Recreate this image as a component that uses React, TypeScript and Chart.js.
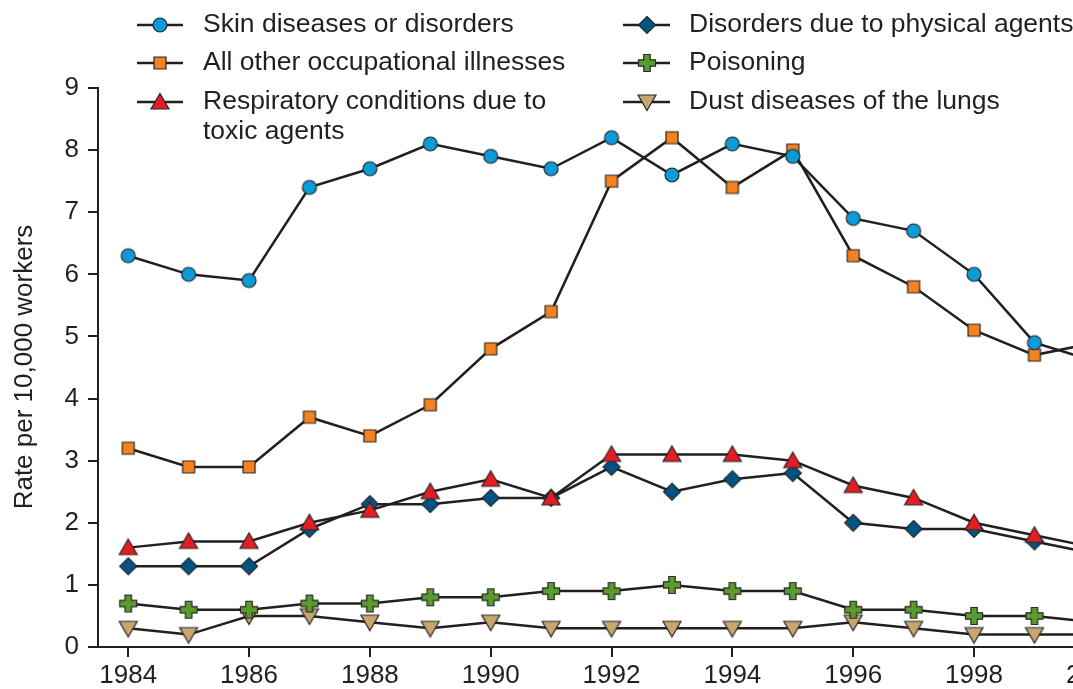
import React, { useEffect, useRef } from "react";
import { Chart, registerables } from "chart.js";

Chart.register(...registerables);

// ---------- data ----------
const YEARS = [1984, 1985, 1986, 1987, 1988, 1989, 1990, 1991, 1992, 1993, 1994, 1995, 1996, 1997, 1998, 1999, 2000];
const SKIN = [6.3, 6.0, 5.9, 7.4, 7.7, 8.1, 7.9, 7.7, 8.2, 7.6, 8.1, 7.9, 6.9, 6.7, 6.0, 4.9, 4.6];
const OTHER = [3.2, 2.9, 2.9, 3.7, 3.4, 3.9, 4.8, 5.4, 7.5, 8.2, 7.4, 8.0, 6.3, 5.8, 5.1, 4.7, 4.9];
const RESPIRATORY = [1.6, 1.7, 1.7, 2.0, 2.2, 2.5, 2.7, 2.4, 3.1, 3.1, 3.1, 3.0, 2.6, 2.4, 2.0, 1.8, 1.6];
const PHYSICAL = [1.3, 1.3, 1.3, 1.9, 2.3, 2.3, 2.4, 2.4, 2.9, 2.5, 2.7, 2.8, 2.0, 1.9, 1.9, 1.7, 1.5];
const POISONING = [0.7, 0.6, 0.6, 0.7, 0.7, 0.8, 0.8, 0.9, 0.9, 1.0, 0.9, 0.9, 0.6, 0.6, 0.5, 0.5, 0.4];
const DUST = [0.3, 0.2, 0.5, 0.5, 0.4, 0.3, 0.4, 0.3, 0.3, 0.3, 0.3, 0.3, 0.4, 0.3, 0.2, 0.2, 0.2];

const X_TICKS = [1984, 1986, 1988, 1990, 1992, 1994, 1996, 1998, 2000];
const Y_TICKS = [0, 1, 2, 3, 4, 5, 6, 7, 8, 9];
const Y_TITLE = "Rate per 10,000 workers";

const LABEL_SKIN = ["Skin diseases or disorders"];
const LABEL_OTHER = ["All other occupational illnesses"];
const LABEL_RESP = ["Respiratory conditions due to", "toxic agents"];
const LABEL_PHYS = ["Disorders due to physical agents"];
const LABEL_POIS = ["Poisoning"];
const LABEL_DUST = ["Dust diseases of the lungs"];

// ---------- styles ----------
const INK = "#231f20";
const EDGE = "#262626";
const FONT = '"Liberation Sans", Arial, Helvetica, sans-serif';
const FONT_SIZE = 26;
const LEGEND_FONT_SIZE = 26.5;

type Kind = "circle" | "square" | "triUp" | "diamond" | "plus" | "triDown";

function makeMarker(kind: Kind, fill: string): HTMLCanvasElement {
  const size = 22;
  const c = document.createElement("canvas");
  c.width = size;
  c.height = size;
  const g = c.getContext("2d")!;
  const m = size / 2;
  g.fillStyle = fill;
  g.strokeStyle = EDGE;
  g.lineWidth = 1.2;
  g.lineJoin = "miter";
  g.beginPath();
  if (kind === "circle") {
    g.arc(m, m, 7, 0, Math.PI * 2);
  } else if (kind === "square") {
    g.rect(m - 6, m - 6, 12, 12);
  } else if (kind === "triUp") {
    g.moveTo(m, m - 8.5);
    g.lineTo(m + 9, m + 7);
    g.lineTo(m - 9, m + 7);
    g.closePath();
  } else if (kind === "triDown") {
    g.moveTo(m, m + 8.5);
    g.lineTo(m + 9, m - 7);
    g.lineTo(m - 9, m - 7);
    g.closePath();
  } else if (kind === "diamond") {
    g.moveTo(m, m - 8.5);
    g.lineTo(m + 8.5, m);
    g.lineTo(m, m + 8.5);
    g.lineTo(m - 8.5, m);
    g.closePath();
  } else if (kind === "plus") {
    const a = 8.5;
    const t = 3.2;
    g.moveTo(m - t, m - a);
    g.lineTo(m + t, m - a);
    g.lineTo(m + t, m - t);
    g.lineTo(m + a, m - t);
    g.lineTo(m + a, m + t);
    g.lineTo(m + t, m + t);
    g.lineTo(m + t, m + a);
    g.lineTo(m - t, m + a);
    g.lineTo(m - t, m + t);
    g.lineTo(m - a, m + t);
    g.lineTo(m - a, m - t);
    g.lineTo(m - t, m - t);
    g.closePath();
  }
  g.fill();
  g.stroke();
  return c;
}

const SERIES: { label: string[]; values: number[]; kind: Kind; color: string; col: number; row: number }[] = [
  { label: LABEL_SKIN, values: SKIN, kind: "circle", color: "#0b9bd8", col: 0, row: 0 },
  { label: LABEL_OTHER, values: OTHER, kind: "square", color: "#f58220", col: 0, row: 1 },
  { label: LABEL_RESP, values: RESPIRATORY, kind: "triUp", color: "#e31d25", col: 0, row: 2 },
  { label: LABEL_PHYS, values: PHYSICAL, kind: "diamond", color: "#005482", col: 1, row: 0 },
  { label: LABEL_POIS, values: POISONING, kind: "plus", color: "#5c9b2e", col: 1, row: 1 },
  { label: LABEL_DUST, values: DUST, kind: "triDown", color: "#c9a66f", col: 1, row: 2 },
];

const LEGEND_COLS = [
  { lineStart: 137, lineEnd: 183, text: 203 },
  { lineStart: 623, lineEnd: 670, text: 689 },
];
const LEGEND_ROWS = [25, 63, 102];
const LEGEND_WRAP = 30;

export default function App() {
  const ref = useRef<HTMLCanvasElement | null>(null);

  useEffect(() => {
    if (!ref.current) return;
    const markers = SERIES.map((s) => makeMarker(s.kind, s.color));

    const overlay = {
      id: "overlay",
      afterDraw(chart: any) {
        const ctx: CanvasRenderingContext2D = chart.ctx;
        ctx.save();
        ctx.fillStyle = INK;
        ctx.font = `${FONT_SIZE}px ${FONT}`;
        ctx.textAlign = "center";
        ctx.textBaseline = "middle";
        ctx.translate(25, 367);
        ctx.rotate(-Math.PI / 2);
        ctx.fillText(Y_TITLE, 0, 0);
        ctx.restore();

        ctx.save();
        SERIES.forEach((s, i) => {
          const col = LEGEND_COLS[s.col];
          const y = LEGEND_ROWS[s.row];
          ctx.strokeStyle = INK;
          ctx.lineWidth = 2.5;
          ctx.beginPath();
          ctx.moveTo(col.lineStart, y);
          ctx.lineTo(col.lineEnd, y);
          ctx.stroke();
          const mk = markers[i];
          const cx = (col.lineStart + col.lineEnd) / 2;
          ctx.drawImage(mk, Math.round(cx - mk.width / 2), Math.round(y - mk.height / 2));
          ctx.fillStyle = INK;
          ctx.font = `${LEGEND_FONT_SIZE}px ${FONT}`;
          ctx.textAlign = "left";
          ctx.textBaseline = "middle";
          s.label.forEach((line, k) => {
            ctx.fillText(line, col.text, y + k * LEGEND_WRAP);
          });
        });
        ctx.restore();
      },
    };

    const chart = new Chart(ref.current, {
      type: "line",
      data: {
        datasets: SERIES.map((s, i) => ({
          label: s.label.join(" "),
          data: YEARS.map((x, j) => ({ x, y: s.values[j] })),
          borderColor: INK,
          borderWidth: 2.5,
          pointStyle: markers[i] as any,
          pointRadius: 8,
          pointHoverRadius: 8,
          tension: 0,
          fill: false,
        })),
      },
      options: {
        animation: false,
        responsive: false,
        devicePixelRatio: 1,
        layout: { padding: { top: 88, right: 37, left: 0, bottom: 0 } },
        plugins: {
          legend: { display: false },
          tooltip: { enabled: false },
          title: { display: false },
        },
        scales: {
          x: {
            type: "linear",
            min: 1983.5,
            max: 2000.3,
            afterBuildTicks: (scale: any) => {
              scale.ticks = X_TICKS.map((value) => ({ value }));
            },
            afterFit: (scale: any) => {
              scale.height = 42;
            },
            ticks: {
              color: INK,
              font: { family: FONT, size: FONT_SIZE },
              padding: 3,
              maxRotation: 0,
              autoSkip: false,
              callback: (v: any) => String(v),
            },
            grid: {
              display: true,
              drawOnChartArea: false,
              drawTicks: true,
              tickLength: 10,
              color: INK,
              lineWidth: 2,
            },
            border: { display: true, color: INK, width: 2 },
          },
          y: {
            type: "linear",
            min: 0,
            max: 9,
            afterBuildTicks: (scale: any) => {
              scale.ticks = Y_TICKS.map((value) => ({ value }));
            },
            afterFit: (scale: any) => {
              scale.width = 98;
            },
            ticks: {
              color: INK,
              font: { family: FONT, size: FONT_SIZE },
              padding: 9,
              callback: (v: any) => String(v),
            },
            grid: {
              display: true,
              drawOnChartArea: false,
              drawTicks: true,
              tickLength: 10,
              color: INK,
              lineWidth: 2,
            },
            border: { display: true, color: INK, width: 2 },
          },
        },
      },
      plugins: [overlay],
    });

    return () => chart.destroy();
  }, []);

  return (
    <div
      style={{
        position: "fixed",
        left: 0,
        top: 0,
        width: 1073,
        height: 689,
        overflow: "hidden",
        background: "#ffffff",
      }}
    >
      <canvas ref={ref} width={1150} height={689} style={{ display: "block", width: 1150, height: 689 }} />
    </div>
  );
}
